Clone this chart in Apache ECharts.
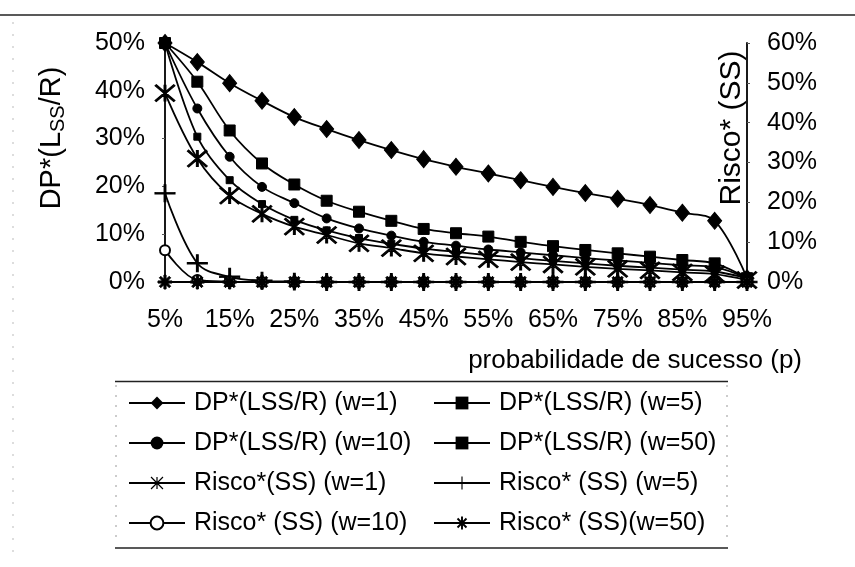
<!DOCTYPE html>
<html><head><meta charset="utf-8">
<script src="https://cdn.jsdelivr.net/npm/echarts@6/dist/echarts.min.js"></script>
<style>html,body{margin:0;padding:0;background:#fff}#c{width:855px;height:567px}</style>
</head><body><div id="c"></div>
<script>
// ---- data ----
const categories = ['5%','10%','15%','20%','25%','30%','35%','40%','45%','50%','55%','60%','65%','70%','75%','80%','85%','90%','95%'];
// DP*(LSS/R) values (left axis, %)
const dpW1  = [50, 46.0, 41.6, 37.9, 34.5, 32.0, 29.7, 27.6, 25.7, 24.1, 22.7, 21.3, 19.9, 18.6, 17.4, 16.1, 14.5, 12.8, 0.8];
const dpW5  = [50, 41.9, 31.7, 24.8, 20.4, 17.0, 14.7, 12.8, 11.1, 10.2, 9.5, 8.4, 7.5, 6.7, 6.0, 5.3, 4.6, 3.9, 0.8];
const dpW10 = [50, 36.3, 26.2, 19.9, 16.5, 13.3, 11.2, 9.7, 8.4, 7.6, 6.8, 6.2, 5.6, 5.0, 4.5, 4.0, 3.5, 3.1, 0.8];
const dpW50 = [50, 30.4, 21.3, 16.3, 13.0, 10.8, 9.2, 8.0, 7.0, 6.3, 5.6, 5.0, 4.4, 3.9, 3.4, 3.0, 2.6, 2.2, 0.8];
// Risco*(SS) values (right axis, %)
const riscoW1  = [47.4, 31.0, 21.7, 17.1, 13.9, 11.8, 9.7, 8.5, 7.2, 6.4, 5.7, 5.0, 4.4, 3.8, 3.3, 2.9, 2.4, 2.0, 0.5];
const riscoW5  = [22.3, 4.7, 1.3, 0.3, 0.1, 0, 0, 0, 0, 0, 0, 0, 0, 0, 0, 0, 0, 0, 0];
const riscoW10 = [8.0, 0.5, 0.1, 0, 0, 0, 0, 0, 0, 0, 0, 0, 0, 0, 0, 0, 0, 0, 0];
const riscoW50 = [0, 0, 0, 0, 0, 0, 0, 0, 0, 0, 0, 0, 0, 0, 0, 0, 0, 0, 0];
const leftTicks = [0, 10, 20, 30, 40, 50];
const rightTicks = [0, 10, 20, 30, 40, 50, 60];

const names = {
  dp1: 'DP*(LSS/R) (w=1)', dp5: 'DP*(LSS/R) (w=5)', dp10: 'DP*(LSS/R) (w=10)', dp50: 'DP*(LSS/R) (w=50)',
  r1: 'Risco*(SS) (w=1)', r5: 'Risco* (SS) (w=5)', r10: 'Risco* (SS) (w=10)', r50: 'Risco* (SS)(w=50)'
};

// ---- styles ----
const FONT = "'Liberation Sans', Arial, Helvetica, sans-serif";
const STAR6 = 'path://M-1,-10L1,-10L1,10L-1,10Z M-9.3,-10.7L10.7,9.3L9.3,10.7L-10.7,-9.3Z M9.3,-10.7L10.7,-9.3L-9.3,10.7L-10.7,9.3Z';
const PLUS = 'path://M-0.9,-10L0.9,-10L0.9,10L-0.9,10Z M-10,-0.9L10,-0.9L10,0.9L-10,0.9Z';
const AST8 = 'path://M-1.5,-10L1.5,-10L1.5,10L-1.5,10Z M-10,-1.5L10,-1.5L10,1.5L-10,1.5Z M-5.94,-8.06L8.06,5.94L5.94,8.06L-8.06,-5.94Z M5.94,-8.06L8.06,-5.94L-5.94,8.06L-8.06,5.94Z M-4,-4L4,-4L4,4L-4,4Z';

function mk(name, data, yIdx, symbol, size, extra) {
  return Object.assign({
    name: name, type: 'line', data: data, yAxisIndex: yIdx,
    smooth: 0.35, symbol: symbol, symbolSize: size,
    lineStyle: { color: '#000', width: 1.8 },
    itemStyle: { color: '#000', borderColor: '#000' },
    emphasis: { disabled: true }
  }, extra || {});
}

const chart = echarts.init(document.getElementById('c'), null, { renderer: 'canvas' });
const axisLabelStyle = { fontSize: 25, color: '#000', fontFamily: FONT };

chart.setOption({
  animation: false,
  backgroundColor: '#fff',
  textStyle: { fontFamily: FONT },
  grid: { left: 165, right: 108, top: 43, bottom: 285, containLabel: false },
  xAxis: [
    { type: 'category', data: categories, boundaryGap: false,
      axisLine: { lineStyle: { color: '#000', width: 2 } },
      axisTick: { show: false },
      axisLabel: Object.assign({ interval: 1, margin: 26 }, axisLabelStyle),
      splitLine: { show: false } },
    { type: 'category', data: categories, boundaryGap: false, position: 'top',
      axisLine: { lineStyle: { color: '#000', width: 1.8 } },
      axisTick: { show: false }, axisLabel: { show: false }, splitLine: { show: false } }
  ],
  yAxis: [
    { type: 'value', min: leftTicks[0], max: leftTicks[leftTicks.length - 1], interval: 10,
      axisLine: { show: true, lineStyle: { color: '#000', width: 1.8 } },
      axisTick: { show: true, length: 3, lineStyle: { color: '#555' } },
      axisLabel: Object.assign({ formatter: '{value}%', margin: 20 }, axisLabelStyle),
      splitLine: { show: false } },
    { type: 'value', min: rightTicks[0], max: rightTicks[rightTicks.length - 1], interval: 10, position: 'right',
      axisLine: { show: true, lineStyle: { color: '#000', width: 1.8 } },
      axisTick: { show: true, length: 3, lineStyle: { color: '#555' } },
      axisLabel: Object.assign({ formatter: '{value}%', margin: 20 }, axisLabelStyle),
      splitLine: { show: false } }
  ],
  legend: [
    { data: [names.dp1, names.dp10, names.r1, names.r10], orient: 'vertical', left: 123, top: 385,
      itemWidth: 56, itemHeight: 16, itemGap: 14, selectedMode: false,
      textStyle: { fontSize: 25, color: '#000', fontFamily: FONT, lineHeight: 26, padding: [0, 0, 0, 4] } },
    { data: [names.dp5, names.dp50, names.r5, names.r50], orient: 'vertical', left: 428, top: 385,
      itemWidth: 56, itemHeight: 16, itemGap: 14, selectedMode: false,
      textStyle: { fontSize: 25, color: '#000', fontFamily: FONT, lineHeight: 26, padding: [0, 0, 0, 4] } }
  ],
  series: [
    mk(names.dp1, dpW1, 0, 'diamond', [14, 17]),
    mk(names.dp5, dpW5, 0, 'rect', 11),
    mk(names.dp10, dpW10, 0, 'circle', 9),
    mk(names.dp50, dpW50, 0, 'rect', 7),
    mk(names.r1, riscoW1, 1, STAR6, [20, 17]),
    mk(names.r5, riscoW5, 1, PLUS, [20, 17]),
    mk(names.r10, riscoW10, 1, 'emptyCircle', 10, { itemStyle: { color: '#000', borderColor: '#000', borderWidth: 1.5 } }),
    mk(names.r50, riscoW50, 1, AST8, 14)
  ],
  graphic: [
    // outer frame bits
    { type: 'line', shape: { x1: 0, y1: 15, x2: 855, y2: 15 }, style: { stroke: '#222', lineWidth: 1.5 }, silent: true },
    { type: 'line', shape: { x1: 13, y1: 22, x2: 13, y2: 560 }, style: { stroke: '#bbb', lineWidth: 1, lineDash: [2, 10] }, silent: true },
    // legend box
    { type: 'line', shape: { x1: 115, y1: 381.5, x2: 728, y2: 381.5 }, style: { stroke: '#222', lineWidth: 1.5 }, silent: true },
    { type: 'line', shape: { x1: 115, y1: 548, x2: 728, y2: 548 }, style: { stroke: '#222', lineWidth: 1.5 }, silent: true },
    { type: 'line', shape: { x1: 116, y1: 385, x2: 116, y2: 545 }, style: { stroke: '#999', lineWidth: 1, lineDash: [2, 8] }, silent: true },
    { type: 'line', shape: { x1: 727, y1: 385, x2: 727, y2: 545 }, style: { stroke: '#999', lineWidth: 1, lineDash: [2, 8] }, silent: true },
    // axis titles
    { type: 'text', x: 52, y: 138, rotation: Math.PI / 2, silent: true,
      style: { text: 'DP*(L{sub|SS}/R)', fontSize: 29, fontFamily: FONT, fill: '#000',
        align: 'center', verticalAlign: 'middle', textAlign: 'center', textVerticalAlign: 'middle',
        rich: { sub: { fontSize: 20, fontFamily: FONT, fill: '#000', padding: [12, 0, 0, 0] } } } },
    { type: 'text', x: 732, y: 128, rotation: Math.PI / 2, silent: true,
      style: { text: 'Risco* (SS)', fontSize: 30, fontFamily: FONT, fill: '#000',
        align: 'center', verticalAlign: 'middle', textAlign: 'center', textVerticalAlign: 'middle' } },
    { type: 'text', x: 802, y: 361, silent: true,
      style: { text: 'probabilidade de sucesso (p)', fontSize: 26, fontFamily: FONT, fill: '#000',
        align: 'right', verticalAlign: 'middle', textAlign: 'right', textVerticalAlign: 'middle' } }
  ]
});
</script>
</body></html>
